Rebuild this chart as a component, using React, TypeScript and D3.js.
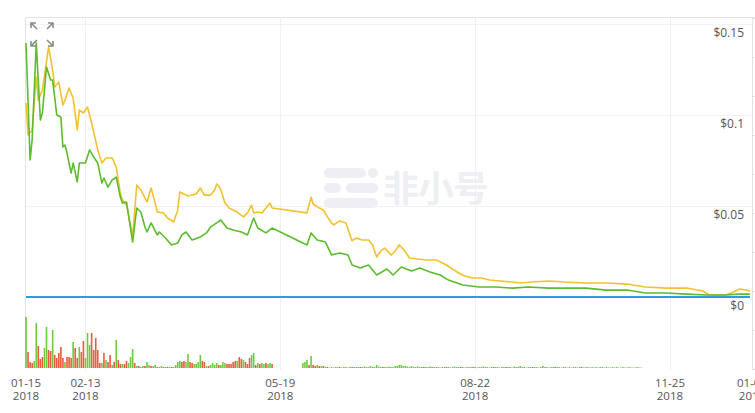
import React from 'react';
import * as d3 from 'd3';

// [day offset from 2018-01-15, price in USD]
const priceUsd: [number, number][] = [
  [0, 0.1066], [1, 0.089], [3, 0.0918], [5, 0.1209], [6, 0.1082], [8, 0.1137], [11, 0.1374],
  [13, 0.1247], [14, 0.1154], [16, 0.1181], [18, 0.1055], [19, 0.1082], [21, 0.1148], [23, 0.1093],
  [25, 0.0918], [26, 0.1027], [28, 0.1011], [30, 0.1044], [32, 0.0956], [35, 0.0808], [37, 0.0736],
  [39, 0.0764], [42, 0.0764], [44, 0.0714], [46, 0.0571], [47, 0.0533], [49, 0.0505], [52, 0.0335],
  [54, 0.0615], [56, 0.0588], [59, 0.0522], [61, 0.0599], [63, 0.0516], [64, 0.0467], [67, 0.0462],
  [69, 0.0434], [72, 0.0412], [74, 0.0478], [75, 0.0577], [77, 0.0566], [79, 0.0555], [81, 0.056],
  [83, 0.0566], [85, 0.0599], [87, 0.056], [90, 0.056], [92, 0.0588], [93, 0.0621], [94, 0.061],
  [95, 0.0588], [97, 0.0516], [99, 0.0489], [101, 0.0478], [103, 0.0467], [106, 0.044], [108, 0.0462],
  [110, 0.0505], [111, 0.0462], [113, 0.0467], [115, 0.0462], [119, 0.0516], [120, 0.0489],
  [137, 0.0462], [139, 0.0549], [140, 0.0511], [142, 0.0495], [145, 0.0478], [147, 0.044],
  [149, 0.0407], [150, 0.0396], [153, 0.0418], [156, 0.0407], [159, 0.0308], [161, 0.0324],
  [164, 0.0313], [167, 0.0313], [169, 0.0286], [171, 0.022], [173, 0.0253], [175, 0.0269],
  [178, 0.0231], [180, 0.0253], [182, 0.0286], [184, 0.0264], [187, 0.0214], [191, 0.0209],
  [195, 0.0203], [200, 0.0203], [205, 0.0176], [208, 0.0154], [211, 0.0132], [214, 0.0115],
  [218, 0.0104], [222, 0.0104], [226, 0.0093], [231, 0.0088], [237, 0.0082], [241, 0.0077],
  [247, 0.0082], [255, 0.0088], [263, 0.0082], [273, 0.0077], [283, 0.0077], [293, 0.0071],
  [302, 0.0055], [312, 0.0049], [322, 0.0049], [330, 0.0033], [333, 0.0011], [341, 0.0011],
  [344, 0.0022], [348, 0.0044], [351, 0.0038], [353, 0.0033],
];

const priceAlt: [number, number][] = [
  [0, 0.1396], [2, 0.0753], [3, 0.0863], [5, 0.1396], [7, 0.0973], [8, 0.1011], [10, 0.1264],
  [12, 0.1192], [13, 0.1192], [15, 0.1], [17, 0.0989], [18, 0.0824], [19, 0.0835], [20, 0.0791],
  [22, 0.0681], [23, 0.0736], [25, 0.0632], [26, 0.0736], [29, 0.0736], [31, 0.0808], [33, 0.0769],
  [35, 0.0736], [37, 0.0626], [38, 0.0654], [40, 0.0604], [42, 0.0643], [44, 0.0659], [46, 0.0549],
  [47, 0.0516], [49, 0.0522], [52, 0.0302], [54, 0.0489], [56, 0.0467], [58, 0.0385], [59, 0.0357],
  [61, 0.0407], [64, 0.0341], [65, 0.0357], [68, 0.0324], [71, 0.0286], [74, 0.0297], [76, 0.0341],
  [78, 0.0357], [81, 0.0313], [85, 0.033], [88, 0.0352], [90, 0.0385], [93, 0.0407], [95, 0.0423],
  [98, 0.0379], [101, 0.0368], [105, 0.0357], [108, 0.0341], [111, 0.0434], [113, 0.0379],
  [117, 0.0352], [120, 0.0379], [137, 0.0286], [139, 0.0352], [142, 0.0313], [146, 0.0302],
  [149, 0.0231], [153, 0.0242], [157, 0.0231], [159, 0.0176], [163, 0.0159], [167, 0.0176],
  [171, 0.0121], [176, 0.0154], [179, 0.0121], [183, 0.0165], [188, 0.0143], [192, 0.0159],
  [197, 0.0137], [202, 0.0121], [206, 0.0093], [213, 0.0066], [221, 0.0055], [229, 0.0055],
  [237, 0.0049], [245, 0.0055], [255, 0.0049], [263, 0.0049], [273, 0.0049], [283, 0.0038],
  [293, 0.0038], [302, 0.0022], [312, 0.0022], [322, 0.0016], [332, 0.0011], [341, 0.0011],
  [348, 0.0016], [353, 0.0016],
];

const priceBtc: [number, number][] = [
  [0, 0.000012], [120, 0.000007], [137, 0.000006], [353, 0.000002],
];

// daily volume, sign = up (+) / down (-) day, starting 2018-01-15
const volumeHead = [
  51, -16, -6, -5, 7, 45, -22, -9, -11, 20,
  41, -18, -17, 38, -13, -10, -15, -21, -10, 6,
  -11, -11, -10, 26, -20, -10, 21, -16, -27, 10,
  35, 23, -35, -18, -30, -18, -5, 5, -15, 8,
  -6, -13, 3, -6, 28, -8, -4, 4, -4, -7,
  5, 11, 19, -5, 2, -2, 1, 2, -2, 6,
  3, -2, 2, 3, -1, 1, 2, -1, 1, -1,
  1, -1, 1, 3, 6, 7, -6, -7, 6, 14,
  -6, -5, 4, 4, 6, 13, -7, -6, 2, -2,
  3, 5, 3, 5, -3, 3, 6, 5, -4, -4,
  -4, -6, -7, 7, -11, -9, 8, -6, -4, -10,
  13, 15, -3, 5, -4, 5, 4, -5, 4, 5,
  -4,
];
// starting day 135 (after the gap)
const volumeTail = [
  5, 6, 8, -3, 12, -3, -2, 3, -2, 2, -2, 1, -1,
  0.5, 1, 0.5, 1, 1, -1, 0.5, 1, 1, 0.5, 1, -1, 1,
  1, 1, -1, 1, 1.5, 1, 1, 2, 1, 1, 3, 1.5, 1, -1, 1,
  1, 1.5, 1, 1, 2, 2, 3, 3, 2, 2, 1.5, 1, 2, 1, 1,
  1.5, 1, 1, -1, 1, 1, 1.5, -1, 1, 1, 1, 0.5, 1, 1, -1,
  1, 0.5, 1, 1.5, 1, 1, -1, 1, 0.5, 1, 1, 1, -1, 1, 0.5,
  1, 1, 1.5, 1, 1, 0.5, 1, -1, 1, 1, 0.5, 1, 1, -1, 1,
  1, 0.5, 1.5, 1, 1, 2, 1, 1, 0.5, 1, 1, -1, 1, 1, 0.5,
  1, 2, 1, 1, 0.5, 1, 1, -1, 1, 1, 0.5, 1, 1, 0.5, 1,
  0.5, 1, 1, 0.5, 1, -1, 0.5, 1, 1, 0.5, 1, 0.5, 1, 0.5, 1,
  1, 0.5, 1, 0.5, 0.5, 1, 0.5, 1, 0.5, 0.5, 1, 0.5, 0.5, 1, 0.5, 0.5, 0.5, 1, 0.5, 0.5,
];
const volumeTailStart = 135;

const priceTicks = [0, 0.05, 0.1, 0.15];
const dateTicks = ['2018-01-15', '2018-02-13', '2018-05-19', '2018-08-22', '2018-11-25', '2019-01-04'];

const W = 755;
const H = 413;
const start = new Date(2018, 0, 15);
const end = new Date(2019, 0, 4);

export default function App() {
  const x = d3.scaleTime().domain([start, end]).range([26, 752]);
  const y = d3.scaleLinear().domain([0, 0.15]).range([297, 24]);
  const yVol = d3.scaleLinear().domain([0, 58]).range([368, 310]);
  const day = (d: number) => d3.timeDay.offset(start, d);

  const line = d3.line<[number, number]>()
    .x((d) => x(day(d[0])))
    .y((d) => y(d[1]));

  const volumes = [
    ...volumeHead.map((v, i) => ({ d: i, v })),
    ...volumeTail.map((v, i) => ({ d: volumeTailStart + i, v })),
  ];

  const parse = d3.timeParse('%Y-%m-%d');
  const fmtTop = d3.timeFormat('%m-%d');
  const fmtBottom = d3.timeFormat('%Y');
  const fmtPrice = (v: number) => '$' + d3.format('~g')(v);

  const rightTicks = d3.range(10).map((i) => 18 + i * 39);

  const font = '"Open Sans", "Noto Sans", sans-serif';

  return (
    <svg width={W} height={H} style={{ position: 'fixed', left: 0, top: 0, background: '#fff' }}>
      {/* frame */}
      <line x1={25} x2={W} y1={17.5} y2={17.5} stroke="#e4e4e4" />
      <line x1={25.5} x2={25.5} y1={17} y2={368} stroke="#e4e4e4" />

      {/* grid */}
      {priceTicks.slice(1).map((t) => (
        <line key={t} x1={26} x2={752} y1={Math.round(y(t)) + 0.5} y2={Math.round(y(t)) + 0.5} stroke="#f2f2f2" />
      ))}
      {dateTicks.slice(1, 5).map((s) => {
        const px = Math.round(x(parse(s)!)) + 0.5;
        return <line key={s} x1={px} x2={px} y1={18} y2={370} stroke="#f0f0f0" />;
      })}

      {/* right axis */}
      <line x1={752.5} x2={752.5} y1={17} y2={369} stroke="#e2e2e2" />
      {rightTicks.map((t) => (
        <line key={t} x1={752} x2={W} y1={t + 0.5} y2={t + 0.5} stroke="#e2e2e2" />
      ))}

      {/* watermark */}
      <g fill="#edeff2">
        <rect x={324} y={168} width={42} height={10} rx={5} />
        <circle cx={373} cy={173} r={5} />
        <rect x={324} y={183} width={17} height={10} rx={5} />
        <rect x={346} y={183} width={32} height={10} rx={5} />
        <rect x={324} y={198} width={54} height={10} rx={5} />
        <text x={383} y={202} fontSize={36} fontWeight={700} fontFamily='"Noto Sans CJK SC", sans-serif' letterSpacing={-1}>
          非小号
        </text>
      </g>

      {/* volume */}
      {volumes.map(({ d, v }) => {
        const px = x(day(d));
        const top = yVol(Math.abs(v));
        return (
          <rect
            key={d}
            x={px - 0.8}
            y={top}
            width={1.6}
            height={368 - top}
            fill={v >= 0 ? '#6cca3e' : '#ec5a3e'}
          />
        );
      })}

      {/* price lines */}
      <path d={line(priceUsd) ?? ''} fill="none" stroke="#f2c12e" strokeWidth={1.6} strokeLinejoin="round" />
      <path d={line(priceAlt) ?? ''} fill="none" stroke="#5cbb2e" strokeWidth={1.6} strokeLinejoin="round" />
      <path d={line(priceBtc) ?? ''} fill="none" stroke="#2f9ae0" strokeWidth={2} />

      {/* right price labels */}
      {priceTicks.map((t) => (
        <text key={t} x={744} y={y(t) + 12.5} textAnchor="end" fontSize={12} fill="#555" fontFamily={font}>
          {fmtPrice(t)}
        </text>
      ))}

      {/* date labels */}
      {dateTicks.map((s) => {
        const dt = parse(s)!;
        const px = x(dt);
        return (
          <g key={s} fontSize={11.5} fill="#555" fontFamily={font} textAnchor="middle">
            <text x={px} y={386.5}>{fmtTop(dt)}</text>
            <text x={px} y={400}>{fmtBottom(dt)}</text>
          </g>
        );
      })}

      {/* fullscreen icon */}
      <g stroke="#8a8a8a" strokeWidth={1.6} fill="none">
        <path d="M31,28 V23 H36 M31,23 L37,29" />
        <path d="M48,23 H53 V28 M53,23 L47,29" />
        <path d="M31,41 V46 H36 M31,46 L37,40" />
        <path d="M53,41 V46 H48 M53,46 L47,40" />
      </g>
    </svg>
  );
}
